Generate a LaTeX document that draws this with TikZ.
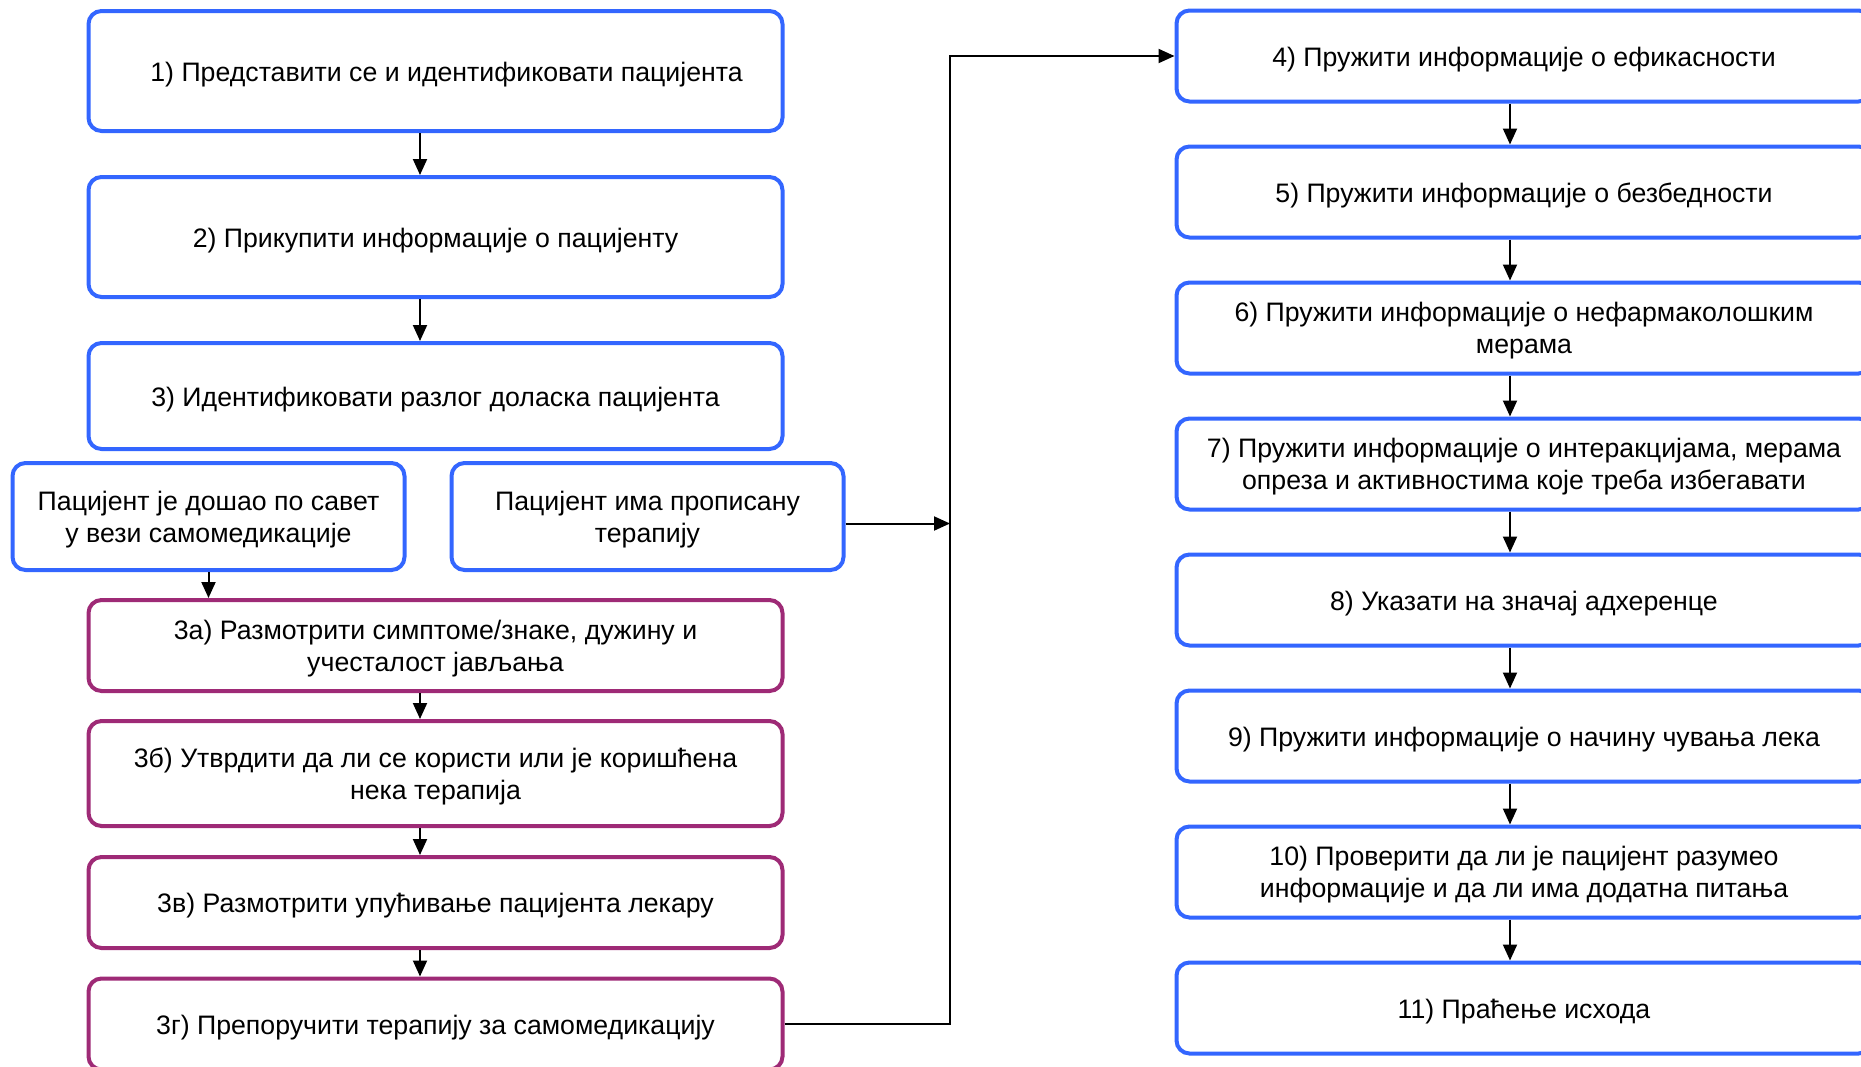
\documentclass[tikz,border=0pt]{standalone}
\usepackage{fontspec}
\setmainfont{Liberation Sans}
\usetikzlibrary{arrows.meta,positioning}
\definecolor{stepblue}{RGB}{51,102,255}
\definecolor{steppurple}{RGB}{158,42,118}
\tikzset{
  stepbox/.style={draw=stepblue, line width=4pt, rounded corners=13pt,
    align=center, inner sep=0pt, minimum width=694pt,
    font=\fontsize{26.7}{32}\selectfont,
    execute at begin node={\rule[-7pt]{0pt}{34.8pt}},
    execute at end node={\rule[-7pt]{0pt}{7pt}}},
  twoline/.style={execute at begin node={\rule[-7pt]{0pt}{65.4pt}}},
  subbox/.style={stepbox, draw=steppurple},
  arr/.style={-{Triangle[length=16pt,width=14pt]}, line width=2pt}
}

\begin{document}
\begin{tikzpicture}[x=1pt,y=-1pt]
\useasboundingbox (0,0) rectangle (1861,1066);
\clip (0,0) rectangle (1861,1066);

% left column
\node[stepbox, minimum height=120pt] (s1) at (435.5,71) {\hspace*{22pt}1) Представити се и идентификовати пацијента};
\node[stepbox, minimum height=120pt] (s2) at (435.5,237) {2) Прикупити информације о пацијенту};
\node[stepbox, minimum height=106pt] (s3) at (435.5,396) {3) Идентификовати разлог доласка пацијента};
\node[stepbox, twoline, minimum width=392pt, minimum height=107pt] (self) at (208.5,516.5) {Пацијент је дошао по савет\\у вези самомедикације};
\node[stepbox, twoline, minimum width=392pt, minimum height=107pt] (presc) at (647.5,516.5) {Пацијент има прописану\\терапију};
\node[subbox, twoline, minimum height=91pt] (s3a) at (435.5,645.5) {3а) Размотрити симптоме/знаке, дужину и\\учесталост јављања};
\node[subbox, twoline, minimum height=105pt] (s3b) at (435.5,773.5) {3б) Утврдити да ли се користи или је коришћена\\нека терапија};
\node[subbox, minimum height=91pt] (s3v) at (435.5,902.5) {3в) Размотрити упућивање пацијента лекару};
\node[subbox, minimum height=91pt] (s3g) at (435.5,1024) {3г) Препоручити терапију за самомедикацију};

% right column
\node[stepbox, minimum width=695pt, minimum height=91pt] (s4) at (1524,56) {4) Пружити информације о ефикасности};
\node[stepbox, minimum width=695pt, minimum height=91pt, below=41pt of s4] (s5) {5) Пружити информације о безбедности};
\node[stepbox, twoline, minimum width=695pt, minimum height=91pt, below=41pt of s5] (s6) {6) Пружити информације о нефармаколошким\\мерама};
\node[stepbox, twoline, minimum width=695pt, minimum height=91pt, below=41pt of s6] (s7) {7) Пружити информације о интеракцијама, мерама\\опреза и активностима које треба избегавати};
\node[stepbox, minimum width=695pt, minimum height=91pt, below=41pt of s7] (s8) {8) Указати на значај адхеренце};
\node[stepbox, minimum width=695pt, minimum height=91pt, below=41pt of s8] (s9) {9) Пружити информације о начину чувања лека};
\node[stepbox, twoline, minimum width=695pt, minimum height=91pt, below=41pt of s9] (s10) {10) Проверити да ли је пацијент разумео\\информације и да ли има додатна питања};
\node[stepbox, minimum width=695pt, minimum height=91pt, below=41pt of s10] (s11) {11) Праћење исхода};

\coordinate (lspine) at (420,0);
\coordinate (rspine) at (1510,0);
\coordinate (bus) at (950,0);

% arrows
\draw[arr] (s1.south -| lspine) -- (s2.north -| lspine);
\draw[arr] (s2.south -| lspine) -- (s3.north -| lspine);
\draw[arr] (self.south) -- (s3a.north -| self.south);
\draw[arr] (s3a.south -| lspine) -- (s3b.north -| lspine);
\draw[arr] (s3b.south -| lspine) -- (s3v.north -| lspine);
\draw[arr] (s3v.south -| lspine) -- (s3g.north -| lspine);
\draw[arr] ([yshift=-7pt]presc.east) -- ([yshift=-7pt]presc.east -| bus);
\draw[arr] (s3g.east) -- (s3g.east -| bus) |- (s4.west);
\foreach \a/\b in {s4/s5,s5/s6,s6/s7,s7/s8,s8/s9,s9/s10,s10/s11}
  \draw[arr] (\a.south -| rspine) -- (\b.north -| rspine);
\end{tikzpicture}
\end{document}
